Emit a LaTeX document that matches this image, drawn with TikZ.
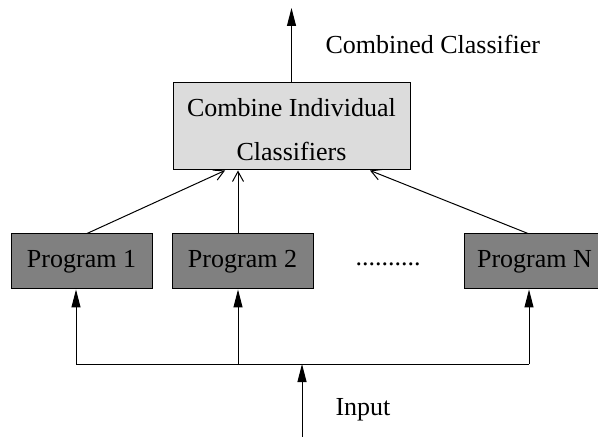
\documentclass[tikz,border=0pt]{standalone}
\usepackage{fontspec}
\setmainfont{Liberation Serif}
\usetikzlibrary{arrows.meta,calc}
\definecolor{combgray}{HTML}{DCDCDC}
\definecolor{proggray}{HTML}{808080}
\tikzset{
    prog/.style={draw, fill=proggray, minimum width=70.5pt, minimum height=27.5pt, inner sep=0pt},
    combbox/.style={draw, fill=combgray, minimum width=118.5pt, minimum height=43.5pt, inner sep=0pt, align=center},
    solidtip/.style={-{Triangle[length=9pt,width=4.5pt]}},
    opentip/.style={-{Straight Barb[length=5pt,width=5.5pt]}}
}
\begin{document}
\begin{tikzpicture}[x=0.5pt, y=-0.5pt, line width=0.5pt, font=\fontsize{13}{22}\selectfont]
    \useasboundingbox (0,0) rectangle (598,437);

    % 合并模块
    \node[combbox] (comb) at (291.5,126.5) {\rule{0pt}{12.5pt}Combine Individual\\Classifiers};

    % 各个程序
    \node[prog] (p1) at (81.5,261.5) {Program 1};
    \node[prog] (p2) at (242.5,261.5) {Program 2};
    \node[prog] (pN) at (534.5,261.5) {Program N};
    \node[anchor=base] (dots) at (388,266) {..........};

    % 输出与输入
    \coordinate (result) at (291.5,8);
    \draw[solidtip] (comb.north) -- (result);
    \node[anchor=west, inner sep=0pt] (outlabel) at (325,44) {Combined Classifier};

    \coordinate (src) at (302,437);
    \coordinate (split) at (302,364);
    \draw[solidtip] (src) -- (split);
    \node[anchor=west, inner sep=0pt] (inlabel) at (335,410) {Input};

    % 分支线
    \coordinate (b1) at (76,364);
    \coordinate (b2) at (238,364);
    \coordinate (bN) at (529,364);
    \draw (b1) -- (bN);
    \draw[solidtip] (b1) -- (b1 |- p1.south);
    \draw[solidtip] (b2) -- (b2 |- p2.south);
    \draw[solidtip] (bN) -- (bN |- pN.south);

    % 程序到合并模块
    \draw[opentip] ($(p1.north)+(5.5,0)$) -- ($(comb.south)+(-66.5,0)$);
    \draw[opentip] ($(p2.north)+(-4.5,0)$) -- ($(comb.south)+(-53.5,0)$);
    \draw[opentip] ($(pN.north)+(-6.5,0)$) -- ($(comb.south)+(78.5,0)$);
\end{tikzpicture}
\end{document}
